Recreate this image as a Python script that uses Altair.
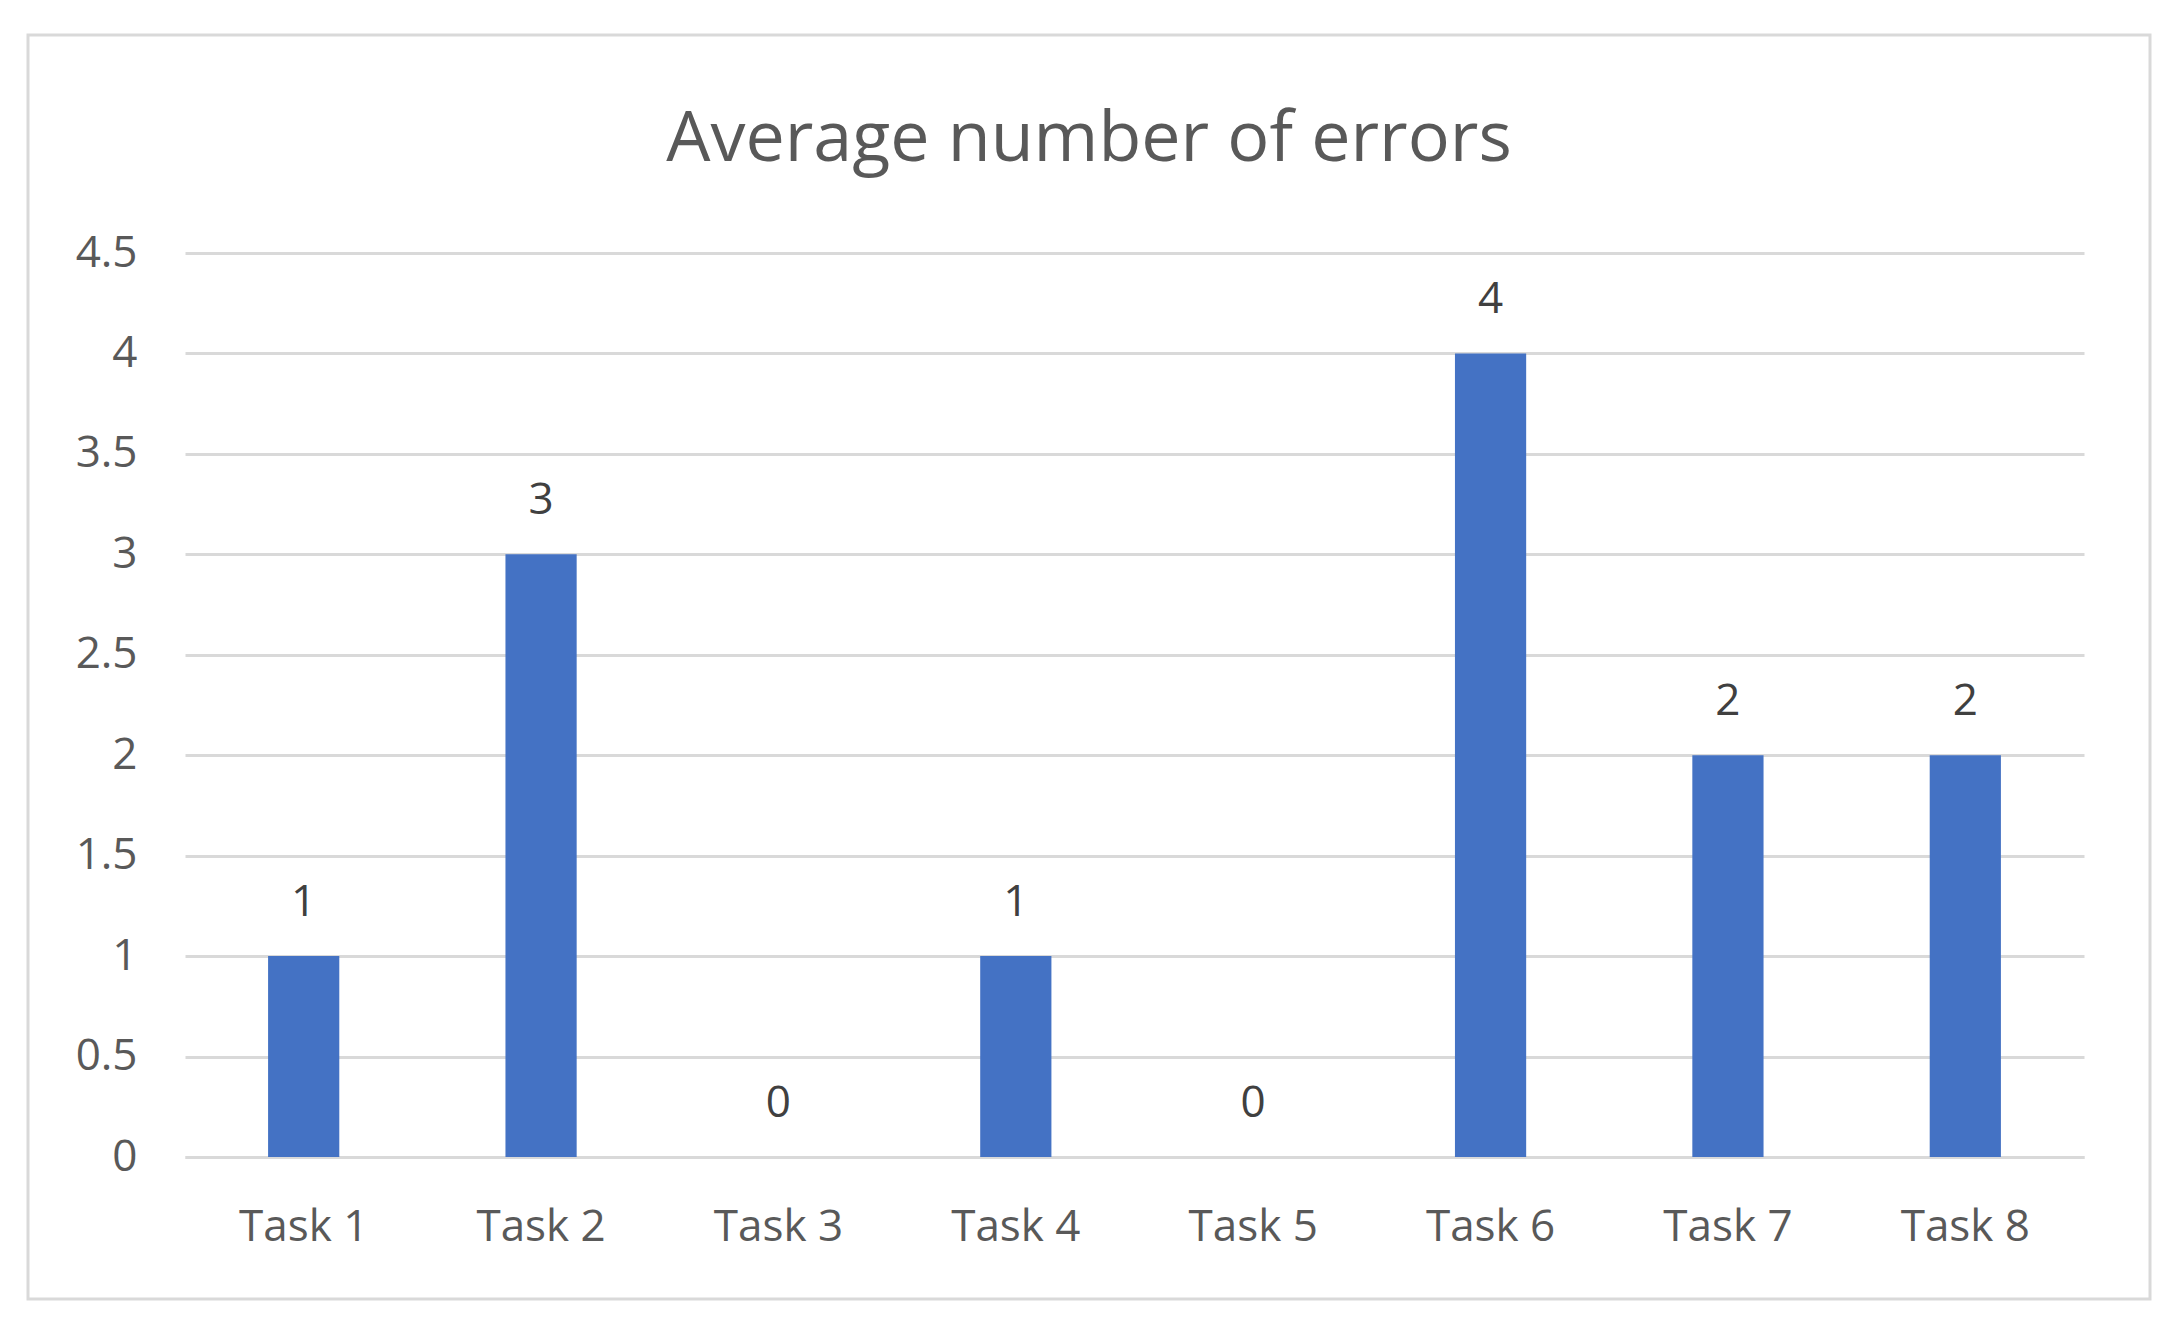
import altair as alt
import pandas as pd

tasks = ["Task 1", "Task 2", "Task 3", "Task 4", "Task 5", "Task 6", "Task 7", "Task 8"]
errors = [1, 3, 0, 1, 0, 4, 2, 2]
y_ticks = [0, 0.5, 1, 1.5, 2, 2.5, 3, 3.5, 4, 4.5]
title_text = "Average number of errors"

df = pd.DataFrame({"task": tasks, "errors": errors})

FONT = "Open Sans"
W, H = 1899, 904
PL, PT = 177, 245

x_enc = alt.X("task:N", sort=tasks, title=None,
              scale=alt.Scale(paddingInner=0.7, paddingOuter=0.35),
              axis=alt.Axis(labelAngle=0, labelFontSize=44, labelFont=FONT,
                            labelColor="#595959", labelPadding=48, ticks=False,
                            domainColor="#d9d9d9", domainWidth=3, grid=False))
y_enc = alt.Y("errors:Q", title=None,
              scale=alt.Scale(domain=[0, 4.5], nice=False),
              axis=alt.Axis(values=y_ticks, format="~g", labelFontSize=44, labelFont=FONT,
                            labelColor="#595959", labelPadding=48, ticks=False,
                            domain=False, gridColor="#d9d9d9", gridWidth=3))

base = alt.Chart(df)

bars = base.mark_bar(color="#4472C4").encode(x=x_enc, y=y_enc)

labels = base.mark_text(font=FONT, fontSize=44, color="#404040",
                        baseline="middle", dy=-53).encode(
    x=alt.X("task:N", sort=tasks), y=alt.Y("errors:Q"), text=alt.Text("errors:Q"))

frame = alt.Chart(pd.DataFrame({"a": [0]})).mark_rect(
    fill=None, stroke="#d9d9d9", strokeWidth=3, clip=False).encode(
    x=alt.value(28 - 185), x2=alt.value(2150 - 185),
    y=alt.value(35 - 253), y2=alt.value(1299 - 253))

title = alt.Chart(pd.DataFrame({"t": [title_text]})).mark_text(
    font=FONT, fontSize=70, color="#595959", baseline="alphabetic",
    align="center").encode(
    text="t:N", x=alt.value(1089 - 185), y=alt.value(161 - 253))

chart = alt.layer(frame, bars, labels, title).properties(
    width=W, height=H,
    padding={"left": PL, "top": PT, "right": 84, "bottom": 171},
    autosize=alt.AutoSizeParams(type="none"),
    view=alt.ViewBackground(strokeWidth=0, strokeOpacity=0),
).configure_view(strokeWidth=0, strokeOpacity=0).configure(background="white")

chart.save("out.html", embed_options={"renderer": "svg", "actions": False})
